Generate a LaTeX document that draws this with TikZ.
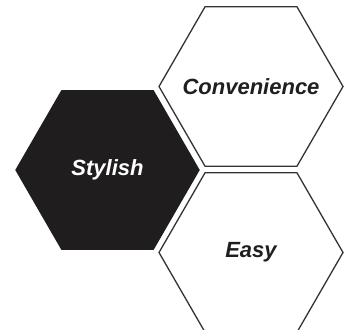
\documentclass[tikz,border=0pt]{standalone}
\usepackage{fontspec}
\setmainfont{Liberation Sans}
\usetikzlibrary{shapes.geometric}
\definecolor{hexdark}{RGB}{32,29,30}
\begin{document}
\begin{tikzpicture}[x=1pt,y=-1pt,
  hex/.style={regular polygon,regular polygon sides=6,minimum size=184pt,inner sep=0pt,
    draw=black!80,line width=1.3pt},
  word/.style={font=\fontsize{22}{26}\selectfont\bfseries\itshape,text=black!88}]
  \useasboundingbox (0,0) rectangle (345,329);
  \node[hex,minimum size=183pt,draw=hexdark,fill=hexdark,
    label={[word,text=white]center:Stylish}] (stylish) at (107.5,170) {};
  \node[hex,label={[word]center:Convenience}] (convenience) at (251,86.5) {};
  \node[hex,label={[word]center:Easy}] (easy) at (251,252.5) {};
\end{tikzpicture}
\end{document}
